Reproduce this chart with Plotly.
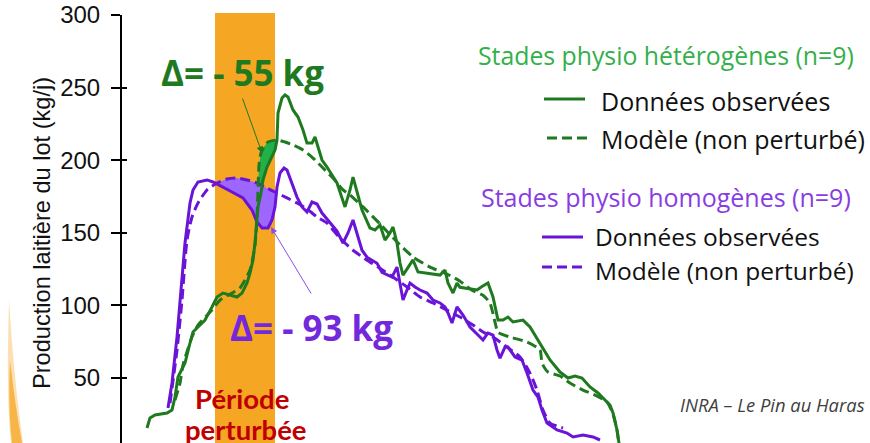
import numpy as np
import plotly.graph_objects as go

# ---------------- data (x = jour, y = kg/j) ----------------
het_obs_x = [12.5, 14, 16.5, 22.5, 25, 26.5, 28, 30, 31.5, 34, 35.5, 38, 41.5, 45, 47.5, 50.5, 54, 57.5, 60,
             62.5, 64, 65.5, 66.5, 67.5, 68, 69.5, 70.5, 72.5, 75, 76.5, 77.5, 78, 80, 81.5, 83, 85.5, 88,
             90.5, 92.5, 95, 96.5, 98, 100, 102.5, 105.5, 107.5, 111.5, 114, 115.5, 117.5, 120, 124, 126.5,
             129, 131.5, 134, 135.5, 137.5, 139, 140.5, 143, 145.5, 148, 152.5, 159, 161.5, 163, 165.5, 167.5,
             169, 174, 177.5, 180, 183, 185.5, 188, 190.5, 193, 195.5, 200.5, 204, 209, 214, 219, 223, 226.5,
             230, 234, 238, 240.5, 244, 245.5, 247.5, 248.5, 249.5]
het_obs_y = [15.6, 22.5, 24.5, 25.9, 28.0, 36.9, 50.7, 56.9, 60.3, 74.1, 81.7, 85.1, 89.9, 98.9, 105.8, 108.5,
             107.2, 105.8, 108.5, 115.4, 122.3, 131.3, 143.0, 156.7, 167.8, 177.4, 186.4, 195.3, 202.2, 207.0,
             213.9, 232.5, 242.8, 244.9, 243.5, 234.6, 229.7, 220.8, 211.8, 211.8, 216.0, 209.1, 200.1, 195.3,
             188.4, 184.3, 167.8, 179.5, 188.4, 177.4, 165.7, 153.3, 151.9, 155.4, 145.0, 149.9, 154.0, 143.0,
             129.2, 120.9, 126.4, 131.3, 123.0, 122.3, 120.9, 124.4, 115.4, 108.5, 115.4, 112.5, 111.3, 110.6,
             113.0, 115.4, 105.8, 89.9, 89.9, 92.0, 88.6, 89.9, 85.1, 74.1, 62.4, 54.1, 50.0, 51.4, 50.0, 43.8,
             39.7, 36.2, 31.4, 25.9, 14.2, 5.2, -3.0]

het_mod_x = [26.5, 29, 30.5, 35, 38, 45, 49, 55, 59, 64, 66.5, 67.5, 68, 68.5, 69.5, 71, 73, 77.5, 81.5, 85.5,
             90.5, 95.5, 100.5, 105.5, 110.5, 114, 120.5, 129, 137.5, 145.5, 154, 162.5, 169, 175, 180.5, 184,
             186.5, 188, 194, 202.5, 209, 210, 213, 219, 224, 230.5, 237.5, 242.5, 245.5, 247.5, 248.5]
het_mod_y = [34.8, 46.5, 58.9, 78.2, 86.5, 96.8, 103.7, 108.5, 112.0, 124.4, 141.6, 160.9, 179.5, 196.7, 205.0,
             209.1, 212.5, 213.9, 212.5, 210.5, 207.0, 201.5, 194.6, 187.7, 179.5, 176.0, 167.8, 156.1, 143.7,
             133.4, 126.4, 121.6, 116.7, 110.5, 107.0, 101.5, 88.5, 81.6, 78.2, 74.8, 69.3, 60.3, 54.1, 51.4,
             46.5, 41.7, 37.6, 33.5, 25.2, 14.2, 3.9]

hom_obs_x = [23, 25, 27.5, 30, 31.5, 34, 35.5, 38, 42.5, 45.5, 50, 55, 60.5, 65, 67.5, 70, 73, 75, 76.5, 77.5,
             79, 81, 82.5, 85, 87.5, 90, 92.5, 95, 97.5, 100, 104, 107.5, 110.5, 113, 115.5, 117.5, 120, 122.5,
             125, 127.5, 130, 132.5, 135, 137.5, 139, 140.5, 142.5, 144, 146.5, 149, 152.5, 155.5, 159, 161.5,
             163, 165, 167.5, 170.5, 174, 178, 180.5, 183, 185.5, 187.5, 189, 191.5, 193, 196.5, 200, 202.5,
             205.5, 208, 210, 212.5, 217.5, 222.5, 225.5, 230.5, 235.5, 239]
hom_obs_y = [29.3, 46.6, 78.2, 115.4, 143.0, 170.5, 179.5, 185.0, 186.4, 185.0, 181.5, 178.1, 174.0, 165.7,
             157.4, 153.3, 153.3, 158.8, 167.8, 181.5, 191.2, 194.6, 193.3, 184.3, 174.6, 167.8, 164.3, 171.2,
             169.8, 163.6, 156.7, 151.2, 143.0, 149.9, 158.8, 149.9, 138.0, 133.2, 131.1, 129.0, 122.8, 120.9,
             119.5, 126.4, 116.0, 103.7, 110.6, 115.4, 112.7, 110.6, 108.5, 103.7, 101.7, 98.9, 94.8, 87.9,
             98.9, 93.4, 85.1, 79.6, 76.2, 81.0, 79.6, 69.3, 63.7, 71.3, 71.3, 64.5, 62.4, 53.4, 41.7, 36.9,
             27.9, 19.0, 14.2, 12.1, 9.4, 10.7, 9.4, 7.3]

hom_mod_x = [24, 27.5, 30, 32.5, 35, 38, 42.5, 47.5, 52.5, 57.5, 62.5, 67.5, 72.5, 77.5, 82.5, 87.5, 92.5,
             97.5, 102.5, 109, 115.5, 122.5, 129, 135.5, 142.5, 149, 155.5, 162.5, 169, 175.5, 180.5, 185.5,
             192.5, 199, 204, 207.5, 210.5, 214, 220.5]
hom_mod_y = [32.7, 69.3, 103.7, 145.0, 160.9, 170.5, 179.5, 184.3, 187.0, 187.7, 186.4, 184.3, 180.8, 177.4,
             174.0, 170.5, 166.4, 160.9, 156.7, 146.3, 138.0, 131.1, 125.6, 119.5, 112.7, 105.8, 101.7, 96.8,
             92.0, 86.5, 81.7, 78.2, 71.3, 64.5, 53.4, 41.7, 27.9, 19.0, 15.6]

periode = [46.5, 76.5]          # période perturbée (jours)
y_ticks = [0, 50, 100, 150, 200, 250, 300]

# ---------------- style ----------------
W, H = 870, 443
L, T, PW, PH = 122, 15, 748, 428
GREEN = "#1F7A1F"
GREEN_FILL = "#22B04B"
PURPLE = "#6A14D8"
PURPLE_FILL = "#9C66FF"
ORANGE = "#F5A623"
FONT = "Open Sans"


def pxx(x):
    return (x - L) / PW


def pxy(y):
    return (H - y) / PH


def between(xo, yo, xm, ym, a, b):
    xs = np.linspace(a, b, 300)
    o = np.interp(xs, xo, yo)
    m = np.interp(xs, xm, ym)
    k = m > o
    xs, o, m = xs[k], o[k], m[k]
    return list(xs) + list(xs[::-1]), list(m) + list(o[::-1])


fig = go.Figure()

fx, fy = between(het_obs_x, het_obs_y, het_mod_x, het_mod_y, 64, 82)
fig.add_trace(go.Scatter(x=fx, y=fy, fill="toself", fillcolor=GREEN_FILL, mode="none", hoverinfo="skip"))
fx, fy = between(hom_obs_x, hom_obs_y, hom_mod_x, hom_mod_y, 44, 82)
fig.add_trace(go.Scatter(x=fx, y=fy, fill="toself", fillcolor=PURPLE_FILL, mode="none", hoverinfo="skip"))

fig.add_trace(go.Scatter(x=hom_mod_x, y=hom_mod_y, mode="lines",
                         line=dict(color=PURPLE, width=3, dash="10px,5px", shape="spline", smoothing=0.6)))
fig.add_trace(go.Scatter(x=hom_obs_x, y=hom_obs_y, mode="lines",
                         line=dict(color=PURPLE, width=3)))
fig.add_trace(go.Scatter(x=het_mod_x, y=het_mod_y, mode="lines",
                         line=dict(color=GREEN, width=3, dash="10px,5px", shape="spline", smoothing=0.6)))
fig.add_trace(go.Scatter(x=het_obs_x, y=het_obs_y, mode="lines",
                         line=dict(color=GREEN, width=3)))

shapes = [
    dict(type="rect", xref="x", yref="paper", x0=periode[0], x1=periode[1], y0=0, y1=1 + 2 / PH,
         fillcolor=ORANGE, line=dict(width=0), layer="below"),
    # slide decoration bottom-left
    dict(type="path", xref="paper", yref="paper",
         path=f"M {pxx(9)},{pxy(300)} Q {pxx(14)},{pxy(380)} {pxx(23)},{pxy(443)} L {pxx(11)},{pxy(443)} "
              f"Q {pxx(6)},{pxy(400)} {pxx(9)},{pxy(300)} Z",
         fillcolor="rgba(245,166,35,0.35)", line=dict(width=0)),
    dict(type="path", xref="paper", yref="paper",
         path=f"M {pxx(10)},{pxy(360)} Q {pxx(15)},{pxy(405)} {pxx(22)},{pxy(443)} L {pxx(12)},{pxy(443)} "
              f"Q {pxx(8)},{pxy(410)} {pxx(10)},{pxy(360)} Z",
         fillcolor="rgba(245,166,35,0.75)", line=dict(width=0)),
    # legend samples
    dict(type="line", xref="paper", yref="paper", x0=pxx(544), x1=pxx(585), y0=pxy(99), y1=pxy(99),
         line=dict(color=GREEN, width=3)),
    dict(type="line", xref="paper", yref="paper", x0=pxx(547), x1=pxx(587), y0=pxy(138), y1=pxy(138),
         line=dict(color=GREEN, width=3, dash="10px,5px")),
    dict(type="line", xref="paper", yref="paper", x0=pxx(542), x1=pxx(583), y0=pxy(237), y1=pxy(237),
         line=dict(color=PURPLE, width=3)),
    dict(type="line", xref="paper", yref="paper", x0=pxx(542), x1=pxx(583), y0=pxy(267), y1=pxy(267),
         line=dict(color=PURPLE, width=3, dash="10px,5px")),
]


def ann(text, x, y, size, color, xanchor="left", bold=False, italic=False, family=FONT, **kw):
    t = f"<b>{text}</b>" if bold else text
    t = f"<i>{t}</i>" if italic else t
    return dict(text=t, xref="paper", yref="paper", x=pxx(x), y=pxy(y), xanchor=xanchor, yanchor="middle",
                showarrow=False, font=dict(family=family, size=size, color=color), **kw)


annotations = [
    ann("Δ= - 55 kg", 242, 72, 35, GREEN, xanchor="center", bold=True),
    ann("Δ= - 93 kg", 311, 327, 35, "#7428DB", xanchor="center", bold=True),
    ann("Période", 242, 398, 27.5, "#C00000", xanchor="center", bold=True, family="Lato"),
    ann("perturbée", 246, 429, 27.5, "#C00000", xanchor="center", bold=True, family="Lato"),
    ann("Stades physio hétérogènes (n=9)", 476, 55, 24.8, "#33B04A"),
    ann("Données observées", 599, 101, 25, "#111111"),
    ann("Modèle (non perturbé)", 599, 139, 25, "#111111"),
    ann("Stades physio homogènes (n=9)", 479, 197, 25, "#8A3CE3"),
    ann("Données observées", 593, 236.5, 24.5, "#111111"),
    ann("Modèle (non perturbé)", 593, 270, 24.5, "#111111"),
    ann("INRA – Le Pin au Haras", 867, 404, 18.4, "#404040", xanchor="right", italic=True),
    ann("Production laitière du lot (kg/j)", 42, 233, 23.6, "#111111", xanchor="center",
        family="Liberation Sans", textangle=-90),
    ann("0", 103, 451, 24, "#111111", xanchor="right", family="Liberation Sans"),
    # arrows
    dict(text="", xref="paper", yref="paper", x=pxx(262), y=pxy(153), ax=-20, ay=-56, showarrow=True,
         arrowhead=2, arrowsize=1.3, arrowwidth=1, arrowcolor=GREEN),
    dict(text="", xref="paper", yref="paper", x=pxx(271), y=pxy(227), ax=41, ay=68, showarrow=True,
         arrowhead=2, arrowsize=1.3, arrowwidth=1, arrowcolor="#8A4FE8"),
]

y0 = (450.6 - 443) * 0.6887
fig.update_layout(
    width=W, height=H, margin=dict(l=L, r=0, t=T, b=0),
    paper_bgcolor="white", plot_bgcolor="rgba(0,0,0,0)",
    showlegend=False, shapes=shapes, annotations=annotations,
    xaxis=dict(range=[0, PW / 2], visible=False, fixedrange=True),
    yaxis=dict(range=[y0, 300], tickvals=y_ticks, ticks="outside", ticklen=9, tickwidth=1.5, tickcolor="black",
               showline=True, linecolor="black", linewidth=2, showgrid=False, zeroline=False,
               ticklabelstandoff=6,
               tickfont=dict(family="Liberation Sans", size=24, color="#111111")),
    yaxis2=dict(range=[y0, 300], overlaying="y", anchor="x", side="left", tickvals=y_ticks, ticks="inside",
                ticklen=5, tickwidth=1.5, tickcolor="black", showticklabels=False, showgrid=False,
                zeroline=False, showline=False),
)
fig.add_trace(go.Scatter(x=[None], y=[None], yaxis="y2", showlegend=False))
fig.write_html("out.html", config={"displayModeBar": False},
               post_script="document.body.style.margin='0px';document.body.style.overflow='hidden';")
